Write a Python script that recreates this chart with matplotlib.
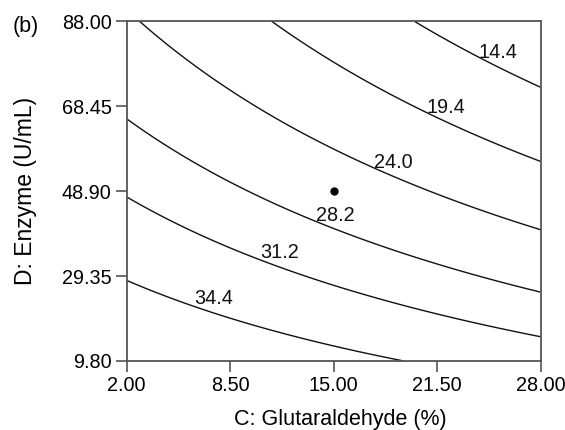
import matplotlib
matplotlib.use("Agg")
import matplotlib.pyplot as plt
import numpy as np

plt.rcParams['font.family'] = ['Liberation Sans', 'DejaVu Sans']

# response surface (coded units), coefficients
b0, bC, bD, bCD, bCC, bDD = 26.2176, -4.7923, -8.9866, -2.4644, -0.0360, -0.0129
c_center, c_half = 15.0, 13.0
d_center, d_half = 48.9, 39.1

levels = [14.4, 19.4, 24.0, 28.2, 31.2, 34.4]
label_spots = [(25.4, 77.0), (22.3, 65.2), (19.0, 53.0), (15.3, 40.2), (11.8, 31.6), (7.7, 21.7)]
xticks = [2.00, 8.50, 15.00, 21.50, 28.00]
yticks = [9.80, 29.35, 48.90, 68.45, 88.00]
center_pt = (15.0, 48.9)

fig = plt.figure(figsize=(5.65, 4.3), dpi=100)
ax = fig.add_axes([0.2242, 0.1605, 0.733, 0.7905])

cc, dd = np.meshgrid(np.linspace(2, 28, 300), np.linspace(9.8, 88, 300))
a = (cc - c_center) / c_half
b = (dd - d_center) / d_half
resp = b0 + bC*a + bD*b + bCD*a*b + bCC*a**2 + bDD*b**2

cs = ax.contour(cc, dd, resp, levels=levels, colors='#111111', linewidths=1.0)
labs = ax.clabel(cs, fmt='%.1f', inline=False, manual=label_spots, fontsize=14.3)
for t in labs:
    t.set_rotation(0)
    t.set_ha('center')
    t.set_va('bottom')
    x, y = t.get_position()
    t.set_position((x - 0.15, y + 1.3))

ax.plot(center_pt[0], center_pt[1], 'o', color='k', markersize=5)

ax.set_xlim(2, 28)
ax.set_ylim(9.8, 88)
ax.set_xticks(xticks)
ax.set_yticks(yticks)
ax.set_xticklabels([f"{v:.2f}" for v in xticks])
ax.set_yticklabels([f"{v:.2f}" for v in yticks])
ax.tick_params(direction='out', length=8, width=1.2, color='#555555', labelsize=14.3, pad=3)
for s in ax.spines.values():
    s.set_color('#555555')
    s.set_linewidth(1.3)

ax.set_xlabel('C: Glutaraldehyde (%)', fontsize=15.5, labelpad=10)
ax.xaxis.label.set_x(0.515)
ax.set_ylabel('D: Enzyme (U/mL)', fontsize=16.5, labelpad=18)
fig.text(0.022, 0.925, '(b)', fontsize=15.5)

fig.savefig("out.png")
